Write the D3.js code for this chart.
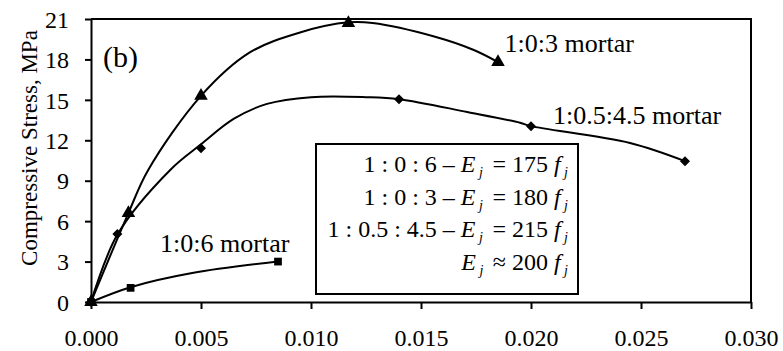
<!DOCTYPE html>
<meta charset="utf-8">
<style>
body { margin: 0; background: #fff; }
.axis path, .axis line { stroke: #000; stroke-width: 2; }
.axis text { fill: #000; }
.fit { fill: none; stroke: #000; stroke-width: 2; stroke-linejoin: round; }
</style>
<svg width="783" height="351"></svg>
<script src="https://d3js.org/d3.v7.min.js"></script>
<script>

// measured points (strain, stress MPa)
var strain106 = [0, 0.0018, 0.0085],
    stress106 = [0, 1.05, 3.0];
var strain103 = [0, 0.0017, 0.005, 0.0117, 0.0185],
    stress103 = [0, 6.6, 15.3, 20.7, 17.8];
var strain1545 = [0, 0.0012, 0.005, 0.014, 0.020, 0.027],
    stress1545 = [0, 5.05, 11.4, 15.05, 13.05, 10.45];

// fitted curves
var fitX106 = [0, 0.0018, 0.0046, 0.0085],
    fitY106 = [0, 1.1, 2.15, 3.0];
var fitX103 = [0, 0.0017, 0.0026, 0.005, 0.0072, 0.0095, 0.0117, 0.0128, 0.0156, 0.0174, 0.0185],
    fitY103 = [0, 6.6, 9.8, 15.3, 18.5, 20.0, 20.75, 20.7, 19.7, 18.7, 17.8];
var fitX1545 = [0, 0.0012, 0.0036, 0.005, 0.0065, 0.008, 0.010, 0.0125, 0.014, 0.0171, 0.0195, 0.020, 0.0245, 0.027],
    fitY1545 = [0, 5.0, 9.8, 11.7, 13.6, 14.7, 15.2, 15.2, 15.05, 14.1, 13.3, 13.05, 11.8, 10.45];

var xTicks = [0, 0.005, 0.010, 0.015, 0.020, 0.025, 0.030],
    yTicks = [0, 3, 6, 9, 12, 15, 18, 21];

var seriesLabels = ["1:0:6 mortar", "1:0:3 mortar", "1:0.5:4.5 mortar"];
var labelAt = [[0.00314, 3.7], [0.0188, 18.55], [0.0210, 13.2]];

var boxRatios = ["1 : 0 : 6 \u2013 ", "1 : 0 : 3 \u2013 ", "1 : 0.5 : 4.5 \u2013 ", ""],
    boxRel = [" = 175 ", " = 180 ", " = 215 ", " \u2248 200 "];

var serif = "Liberation Serif";

var svg = d3.select("svg"),
    margin = {top: 19, right: 32, bottom: 49, left: 91},
    width = +svg.attr("width") - margin.left - margin.right,
    height = +svg.attr("height") - margin.top - margin.bottom;

var g = svg.append("g").attr("transform", "translate(" + margin.left + "," + margin.top + ")");

var x = d3.scaleLinear().domain([0, 0.030]).range([0, width]);
var y = d3.scaleLinear().domain([0, 21]).range([height, 0]);

// frame (top + right)
g.append("path")
  .attr("d", "M0,0H" + width + "V" + height)
  .attr("fill", "none").attr("stroke", "#000").attr("stroke-width", 2);

var xa = g.append("g").attr("class", "axis")
  .attr("transform", "translate(0," + height + ")")
  .call(d3.axisBottom(x).tickValues(xTicks).tickFormat(d3.format(".3f")).tickSize(7).tickSizeOuter(0));
xa.selectAll("text").attr("y", 44).attr("dy", 0).attr("font-size", 24).attr("font-family", serif);

var ya = g.append("g").attr("class", "axis")
  .call(d3.axisLeft(y).tickValues(yTicks).tickSize(6).tickSizeOuter(0).tickPadding(16));
ya.selectAll("text").attr("font-size", 24).attr("dy", "0.34em").attr("font-family", serif);

svg.append("text")
  .attr("transform", "translate(37," + 148 + ") rotate(-90)")
  .attr("text-anchor", "middle")
  .attr("font-family", serif)
  .attr("font-size", 23)
  .text("Compressive Stress, MPa");

var line = d3.line().curve(d3.curveCatmullRom.alpha(0.5))
  .x(function(d) { return x(d[0]); })
  .y(function(d) { return y(d[1]); });

function pts(xs, ys) { return xs.map(function(v, i) { return [v, ys[i]]; }); }

[[fitX106, fitY106], [fitX103, fitY103], [fitX1545, fitY1545]].forEach(function(f) {
  g.append("path").attr("class", "fit").attr("d", line(pts(f[0], f[1])));
});

function marks(xs, ys, type, size, rot) {
  g.append("g").selectAll("path")
    .data(pts(xs, ys))
    .enter().append("path")
      .attr("d", d3.symbol().type(type).size(size))
      .attr("transform", function(d) { return "translate(" + x(d[0]) + "," + y(d[1]) + ") rotate(" + rot + ")"; })
      .attr("fill", "#000");
}
marks(strain106, stress106, d3.symbolSquare, 60, 0);
marks(strain103, stress103, d3.symbolTriangle, 80, 0);
marks(strain1545, stress1545, d3.symbolSquare, 50, 45);

g.selectAll(".slabel")
  .data(seriesLabels)
  .enter().append("text")
    .attr("class", "slabel")
    .attr("x", function(d, i) { return x(labelAt[i][0]); })
    .attr("y", function(d, i) { return y(labelAt[i][1]); })
    .attr("font-family", serif)
    .attr("font-size", 26)
    .text(function(d) { return d; });

svg.append("text")
  .attr("x", 103).attr("y", 67)
  .attr("font-family", serif)
  .attr("font-size", 30)
  .text("(b)");

// equation box
svg.append("rect")
  .attr("x", 316).attr("y", 144).attr("width", 262).attr("height", 150)
  .attr("fill", "#fff").attr("stroke", "#000").attr("stroke-width", 2);

boxRatios.forEach(function(r, i) {
  var t = svg.append("text")
    .attr("x", 568).attr("y", 172 + i * 32.7)
    .attr("text-anchor", "end")
    .attr("font-family", serif)
    .attr("font-size", 24)
    .attr("xml:space", "preserve");
  t.append("tspan").text(r);
  t.append("tspan").attr("font-style", "italic").text("E");
  t.append("tspan").attr("font-style", "italic").attr("font-size", 14).attr("dy", 5).text(" j ");
  t.append("tspan").attr("dy", -5).text(boxRel[i]);
  t.append("tspan").attr("font-style", "italic").text("f");
  t.append("tspan").attr("font-style", "italic").attr("font-size", 14).attr("dy", 5).text(" j");
});

</script>
